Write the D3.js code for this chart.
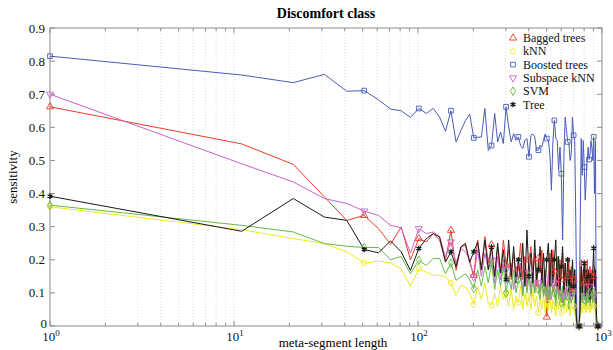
<!DOCTYPE html>
<html>
<head>
<meta charset="utf-8">
<script src="https://cdn.jsdelivr.net/npm/d3@7"></script>
<style>
  body { margin: 0; background: #fff; }
  svg { font-family: "Liberation Serif", "Times New Roman", serif; }
</style>
</head>
<body>
<div id="chart"></div>
<script>
// meta-segment lengths (x) and sensitivity per classifier
const segLen = [1, 11, 21, 31, 41, 51, 61, 71, 81, 91,
  101, 111, 121, 131, 141, 151, 161, 171, 181, 191,
  201, 211, 221, 231, 241, 251, 261, 271, 281, 291,
  301, 311, 321, 331, 341, 351, 361, 371, 381, 391,
  401, 411, 421, 431, 441, 451, 461, 471, 481, 491,
  501, 511, 521, 531, 541, 551, 561, 571, 581, 591,
  601, 611, 621, 631, 641, 651, 661, 671, 681, 691,
  701, 711, 721, 731, 741, 751, 761, 771, 781, 791,
  801, 811, 821, 831, 841, 851, 861, 871, 881, 891,
  901, 911, 921, 931, 941, 951, 961, 971, 981, 991];

const baggedTrees = [0.662, 0.55, 0.488, 0.39, 0.319, 0.334, 0.294, 0.247, 0.299, 0.2, 0.264, 0.254, 0.279, 0.26, 0.198, 0.289, 0.168, 0.239, 0.244, 0.19, 0.153,
  0.26, 0.17, 0.27, 0.19, 0.245, 0.15, 0.24, 0.16, 0.26, 0.186, 0.23, 0.14, 0.22, 0.15, 0.173, 0.25, 0.14, 0.21, 0.13, 0.2,
  0.24, 0.15, 0.22, 0.12, 0.204, 0.16, 0.23, 0.12, 0.17, 0.027, 0.14, 0.22, 0.12, 0.23, 0.165, 0.12, 0.21, 0.1, 0.2, 0.14,
  0.22, 0.11, 0.19, 0.1, 0.15, 0.2, 0.09, 0.18, 0.1, 0.14, 0.17, 0.06, 0, 0, 0, 0.08, 0.2, 0.12, 0.17, 0.13,
  0.19, 0.1, 0.2, 0.11, 0.16, 0.18, 0.09, 0.17, 0.12, 0.15, 0.18, 0.09, 0.03, 0, 0, 0, 0, 0, 0];

const knn = [0.36, 0.291, 0.264, 0.249, 0.224, 0.19, 0.196, 0.19, 0.173, 0.12, 0.173, 0.163, 0.153, 0.153, 0.15, 0.13, 0.093, 0.123, 0.118, 0.1, 0.065,
  0.12, 0.08, 0.13, 0.07, 0.062, 0.1, 0.06, 0.12, 0.08, 0.1, 0.06, 0.11, 0.05, 0.09, 0.07, 0.12, 0.05, 0.1, 0.06, 0.09,
  0.05, 0.11, 0.06, 0.09, 0.04, 0.08, 0.05, 0.1, 0.04, 0.07, 0.05, 0.09, 0.04, 0.08, 0.06, 0.03, 0.08, 0.05, 0.09, 0.04,
  0.07, 0.05, 0.08, 0.04, 0.07, 0.05, 0.03, 0.07, 0.05, 0.06, 0.04, 0.02, 0, 0, 0, 0.03, 0.07, 0.04, 0.08, 0.05,
  0.07, 0.04, 0.08, 0.05, 0.06, 0.04, 0.07, 0.05, 0.08, 0.06, 0.05, 0.03, 0.01, 0, 0, 0, 0, 0, 0];

const boostedTrees = [0.815, 0.758, 0.735, 0.76, 0.709, 0.711, 0.683, 0.655, 0.65, 0.63, 0.657, 0.642, 0.657, 0.631, 0.588, 0.65, 0.556, 0.59, 0.62, 0.64, 0.568,
  0.57, 0.571, 0.657, 0.53, 0.545, 0.642, 0.556, 0.586, 0.551, 0.662, 0.601, 0.556, 0.581, 0.561, 0.571, 0.545, 0.536, 0.561, 0.566, 0.511,
  0.576, 0.58, 0.571, 0.531, 0.531, 0.546, 0.54, 0.561, 0.58, 0.566, 0.561, 0.52, 0.41, 0.556, 0.621, 0.566, 0.56, 0.47, 0.54, 0.46,
  0.26, 0.52, 0.631, 0.59, 0.556, 0.551, 0.5, 0.52, 0.631, 0.576, 0.56, 0.3, 0, 0, 0, 0.3, 0.566, 0.455, 0.56, 0.48,
  0.38, 0.45, 0.5, 0.54, 0.503, 0.52, 0.56, 0.54, 0.5, 0.571, 0.4, 0.56, 0, 0, 0, 0, 0, 0, 0];

const subspaceKnn = [0.70, 0.49, 0.435, 0.385, 0.37, 0.347, 0.334, 0.304, 0.297, 0.22, 0.294, 0.279, 0.284, 0.27, 0.208, 0.254, 0.19, 0.234, 0.224, 0.2, 0.148,
  0.23, 0.15, 0.22, 0.17, 0.2, 0.13, 0.21, 0.14, 0.2, 0.17, 0.13, 0.19, 0.11, 0.18, 0.14, 0.19, 0.1, 0.17, 0.12, 0.16,
  0.11, 0.18, 0.1, 0.16, 0.13, 0.1, 0.17, 0.09, 0.15, 0.1, 0.16, 0.08, 0.15, 0.1, 0.13, 0.08, 0.15, 0.09, 0.13, 0.1,
  0.07, 0.14, 0.08, 0.12, 0.09, 0.13, 0.07, 0.12, 0.08, 0.1, 0.12, 0.04, 0, 0, 0, 0.05, 0.12, 0.08, 0.13, 0.09,
  0.12, 0.07, 0.11, 0.08, 0.12, 0.07, 0.11, 0.08, 0.1, 0.09, 0.12, 0.06, 0.02, 0, 0, 0, 0, 0, 0];

const svm = [0.365, 0.304, 0.284, 0.249, 0.241, 0.237, 0.237, 0.2, 0.21, 0.158, 0.198, 0.183, 0.204, 0.204, 0.158, 0.19, 0.138, 0.148, 0.158, 0.14, 0.113,
  0.17, 0.12, 0.18, 0.13, 0.19, 0.11, 0.17, 0.12, 0.18, 0.1, 0.15, 0.11, 0.17, 0.1, 0.14, 0.16, 0.09, 0.15, 0.1, 0.15,
  0.09, 0.14, 0.1, 0.16, 0.11, 0.08, 0.14, 0.09, 0.13, 0.1, 0.07, 0.14, 0.08, 0.12, 0.1, 0.06, 0.13, 0.08, 0.11, 0.07,
  0.12, 0.06, 0.1, 0.08, 0.11, 0.05, 0.1, 0.07, 0.09, 0.11, 0.06, 0.03, 0, 0, 0, 0.05, 0.1, 0.07, 0.12, 0.08,
  0.1, 0.06, 0.11, 0.07, 0.1, 0.06, 0.09, 0.12, 0.07, 0.1, 0.08, 0.05, 0.02, 0, 0, 0, 0, 0, 0];

const tree = [0.392, 0.286, 0.385, 0.329, 0.319, 0.231, 0.221, 0.257, 0.224, 0.168, 0.234, 0.264, 0.279, 0.269, 0.193, 0.224, 0.179, 0.239, 0.25, 0.193, 0.224,
  0.254, 0.17, 0.26, 0.17, 0.238, 0.15, 0.25, 0.16, 0.23, 0.14, 0.26, 0.15, 0.24, 0.13, 0.2, 0.14, 0.25, 0.12, 0.29, 0.15,
  0.22, 0.13, 0.26, 0.14, 0.17, 0.24, 0.13, 0.22, 0.12, 0.2, 0.25, 0.12, 0.23, 0.13, 0.2, 0.26, 0.12, 0.21, 0.11, 0.18,
  0.24, 0.1, 0.19, 0.12, 0.2, 0.1, 0.17, 0.09, 0.2, 0.12, 0.17, 0.06, 0, 0, 0, 0.06, 0.18, 0.1, 0.16, 0.19,
  0.09, 0.17, 0.1, 0.17, 0.15, 0.08, 0.16, 0.1, 0.17, 0.235, 0.12, 0.17, 0.05, 0, 0, 0, 0, 0, 0];

const seriesNames = ["Bagged trees", "kNN", "Boosted trees", "Subspace kNN", "SVM", "Tree"];
const yTicks = [0, 0.1, 0.2, 0.3, 0.4, 0.5, 0.6, 0.7, 0.8, 0.9];
const xMajor = [1, 10, 100, 1000];

const width = 613, height = 350;
const margin = {left: 50, right: 11, top: 28, bottom: 24};

const series = [
  {name: seriesNames[0], values: baggedTrees, color: "#f03c28", symbol: d3.symbolTriangle, rot: 0},
  {name: seriesNames[1], values: knn, color: "#eeea22", symbol: d3.symbolCircle, rot: 0},
  {name: seriesNames[2], values: boostedTrees, color: "#4a5bbb", symbol: d3.symbolSquare, rot: 0},
  {name: seriesNames[3], values: subspaceKnn, color: "#c864c8", symbol: d3.symbolTriangle, rot: 180},
  {name: seriesNames[4], values: svm, color: "#66bb44", symbol: d3.symbolDiamond, rot: 0},
  {name: seriesNames[5], values: tree, color: "#1a1a1a", symbol: d3.symbolAsterisk, rot: 0}
];

const svg = d3.select("#chart").append("svg")
  .attr("width", width)
  .attr("height", height);

const x = d3.scaleLog().domain([1, 1000]).range([margin.left, width - margin.right]);
const y = d3.scaleLinear().domain([0, 0.9]).range([height - margin.bottom, margin.top]);

const x0 = x.range()[0], x1 = x.range()[1];
const y0 = y.range()[0], y1 = y.range()[1];

// log minor positions
const xAll = [];
for (let d = 1; d < 1000; d *= 10) {
  for (let k = 1; k < 10; k++) xAll.push(d * k);
}
xAll.push(1000);

// dotted vertical grid
svg.append("g").selectAll("line")
  .data(xAll.filter(v => v > 1 && v < 1000))
  .join("line")
  .attr("x1", d => x(d)).attr("x2", d => x(d))
  .attr("y1", y1).attr("y2", y0)
  .attr("stroke", "#d4d4d4")
  .attr("stroke-width", 0.8)
  .attr("stroke-dasharray", "1,2");

// frame
const axisColor = "#8c8c8c";
svg.append("rect")
  .attr("x", x0).attr("y", y1)
  .attr("width", x1 - x0).attr("height", y0 - y1)
  .attr("fill", "none")
  .attr("stroke", axisColor)
  .attr("stroke-width", 1);

// x ticks (bottom and top, inward)
const xt = svg.append("g");
xAll.forEach(v => {
  const major = xMajor.includes(v);
  const len = major ? 5 : 3;
  xt.append("line").attr("x1", x(v)).attr("x2", x(v)).attr("y1", y0).attr("y2", y0 - len).attr("stroke", axisColor);
  xt.append("line").attr("x1", x(v)).attr("x2", x(v)).attr("y1", y1).attr("y2", y1 + len).attr("stroke", axisColor);
});

// y ticks (left and right, inward)
const yt = svg.append("g");
yTicks.forEach(v => {
  yt.append("line").attr("x1", x0).attr("x2", x0 + 5).attr("y1", y(v)).attr("y2", y(v)).attr("stroke", axisColor);
  yt.append("line").attr("x1", x1).attr("x2", x1 - 5).attr("y1", y(v)).attr("y2", y(v)).attr("stroke", axisColor);
});

// y tick labels
svg.append("g").selectAll("text")
  .data(yTicks)
  .join("text")
  .attr("x", d => d === 0 ? x0 - 3 : x0 - 5)
  .attr("y", d => d === 0 ? y(d) + 2 : y(d) + 4.5)
  .attr("text-anchor", "end")
  .attr("font-size", 13)
  .attr("fill", "#111")
  .text(d => d === 0 ? "0" : d3.format(".1f")(d));

// x tick labels 10^n
const xl = svg.append("g").selectAll("text")
  .data(xMajor)
  .join("text")
  .attr("x", d => x(d) + 1)
  .attr("y", y0 + 15)
  .attr("text-anchor", "middle")
  .attr("font-size", 13)
  .attr("fill", "#111");
xl.append("tspan").text("10");
xl.append("tspan").attr("dy", -5).attr("font-size", 9).text(d => Math.round(Math.log10(d)));

// lines
const line = d3.line()
  .x((d, i) => x(segLen[i]))
  .y(d => y(d));

const plot = svg.append("g");
series.forEach(s => {
  plot.append("path")
    .datum(s.values)
    .attr("d", line)
    .attr("fill", "none")
    .attr("stroke", s.color)
    .attr("stroke-width", 1)
    .attr("stroke-linejoin", "round");
});

// markers every 5th point
function drawMarker(g, s, px, py) {
  const isAst = s.symbol === d3.symbolAsterisk;
  g.append("path")
    .attr("d", d3.symbol().type(s.symbol).size(22)())
    .attr("transform", `translate(${px},${py}) rotate(${s.rot})`)
    .attr("fill", "none")
    .attr("stroke", s.color)
    .attr("stroke-width", isAst ? 1.3 : 0.9);
}

series.forEach(s => {
  const g = plot.append("g");
  s.values.forEach((v, i) => {
    if (i % 5 === 0) drawMarker(g, s, x(segLen[i]), y(v));
  });
});

// legend
const legend = svg.append("g");
series.forEach((s, i) => {
  const ly = 38 + i * 13.3;
  drawMarker(legend, s, 513, ly);
  legend.append("text")
    .attr("x", 523)
    .attr("y", ly + 4)
    .attr("font-size", 12)
    .attr("fill", "#111")
    .text(s.name);
});

// title and axis labels
svg.append("text")
  .attr("x", 326).attr("y", 18)
  .attr("text-anchor", "middle")
  .attr("font-size", 14)
  .attr("font-weight", "bold")
  .text("Discomfort class");

svg.append("text")
  .attr("x", 333).attr("y", 347)
  .attr("text-anchor", "middle")
  .attr("font-size", 13)
  .text("meta-segment length");

svg.append("text")
  .attr("transform", "translate(17,177) rotate(-90)")
  .attr("text-anchor", "middle")
  .attr("font-size", 13)
  .text("sensitivity");
</script>
</body>
</html>
